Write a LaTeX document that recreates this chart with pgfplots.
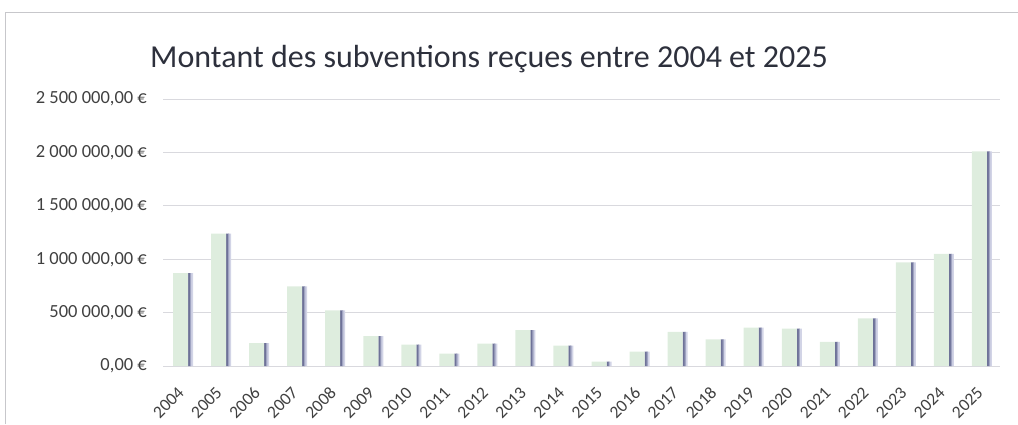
\documentclass[border=0pt]{standalone}
\usepackage{pgfplots}
\pgfplotsset{compat=1.18}
\usepackage{fontspec}
\setmainfont{Carlito}

\definecolor{barface}{RGB}{222,237,222}
\definecolor{bardark}{RGB}{110,114,152}
\definecolor{barmid}{RGB}{160,164,194}
\definecolor{barlight}{RGB}{210,212,230}
\definecolor{gridc}{RGB}{217,217,222}
\definecolor{txt}{RGB}{64,64,64}
\definecolor{ttl}{RGB}{45,48,60}

\pgfplotstableread{
x val
0 870000
1 1240000
2 215000
3 745000
4 520000
5 280000
6 200000
7 115000
8 210000
9 335000
10 190000
11 40000
12 135000
13 320000
14 250000
15 360000
16 350000
17 225000
18 445000
19 970000
20 1050000
21 2010000
}\subv

\begin{document}
\begin{tikzpicture}
\useasboundingbox (0pt,0pt) rectangle (1018pt,424pt);
% cadre du graphique
\draw[gridc!80!gray, line width=0.8pt] (5pt,0pt) -- (5pt,412pt) -- (1018pt,412pt);
\node[anchor=base west, inner sep=0pt, font=\fontsize{32}{36}\selectfont, text=ttl] at (150pt,356pt)
  {Montant des subventions reçues entre 2004 et 2025};
\begin{axis}[
    at={(163pt,58pt)}, anchor=south west,
    scale only axis,
    width=837pt, height=267pt,
    xmin=-0.5, xmax=21.5,
    ymin=0, ymax=2500000,
    axis line style={draw=none},
    axis x line*=bottom,
    x axis line style={draw=gridc, line width=0.8pt},
    ytick={0,500000,1000000,1500000,2000000,2500000},
    yticklabels={{0,00 €},{500 000,00 €},{1 000 000,00 €},{1 500 000,00 €},{2 000 000,00 €},{2 500 000,00 €}},
    xtick={0,...,21},
    xticklabels={2004,2005,2006,2007,2008,2009,2010,2011,2012,2013,2014,2015,2016,2017,2018,2019,2020,2021,2022,2023,2024,2025},
    major tick length=0pt,
    ymajorgrids,
    grid style={draw=gridc, line width=0.8pt},
    tick label style={font=\fontsize{18.5}{20}\selectfont, text=txt},
    yticklabel style={anchor=east, inner sep=0pt, xshift=-16pt},
    xticklabel style={font=\fontsize{17.5}{19}\selectfont, xshift=-1pt, yshift=-24pt, rotate=45, anchor=east, inner sep=0pt},
    scaled y ticks=false,
    clip=false,
]
% côté ombré des barres, en bandes
\addplot[ybar, bar width=2.5pt, bar shift=7.25pt, draw=none,
         fill=bardark] table[x=x,y=val] {\subv};
\addplot[ybar, bar width=2.5pt, bar shift=9.75pt, draw=none,
         fill=barlight] table[x=x,y=val] {\subv};
\addplot[ybar, bar width=1.2pt, bar shift=8.6pt, draw=none,
         fill=barmid] table[x=x,y=val] {\subv};
% face avant verte
\addplot[ybar, bar width=15pt, bar shift=-1.5pt, draw=none,
         fill=barface] table[x=x,y=val] {\subv};
\end{axis}
\end{tikzpicture}
\end{document}
